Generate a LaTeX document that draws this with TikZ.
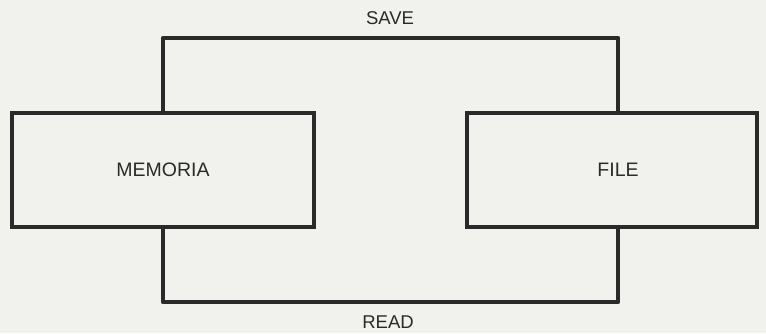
\documentclass[tikz,border=0pt]{standalone}
\usepackage{fontspec}
\setmainfont{Liberation Sans}
\usetikzlibrary{calc}
\definecolor{paper}{HTML}{F1F1EE}
\definecolor{ink}{HTML}{2A2A2A}
\tikzset{
  box/.style={draw=ink, line width=4.5pt, rectangle, minimum height=114pt, inner sep=0pt, font=\fontsize{19.5}{21}\selectfont, text=ink},
  link/.style={draw=ink, line width=4.5pt, line join=round},
  lbl/.style={font=\fontsize{18.5}{20}\selectfont, text=ink, inner sep=0pt}
}
\begin{document}
\begin{tikzpicture}[x=1pt,y=1pt]
  \fill[paper] (0,0) rectangle (766,333);
  \useasboundingbox (0,0) rectangle (766,333);
  \node[box, minimum width=302pt] (mem) at (163,163) {MEMORIA};
  \node[box, minimum width=290pt] (file) at (612,163) {\hspace*{12pt}FILE};
  \coordinate (fT) at ($(file.north)+(6,0)$);
  \coordinate (fB) at ($(file.south)+(6,0)$);
  \coordinate (topY) at (0,295);
  \coordinate (botY) at (0,31);
  \draw[link] (mem.north) -- (mem.north |- topY) -- (fT |- topY) -- (fT);
  \draw[link] (mem.south) -- (mem.south |- botY) -- (fB |- botY) -- (fB);
  \node[lbl] (save) at (390,315) {SAVE};
  \node[lbl] (read) at (388,11) {READ};
\end{tikzpicture}
\end{document}
